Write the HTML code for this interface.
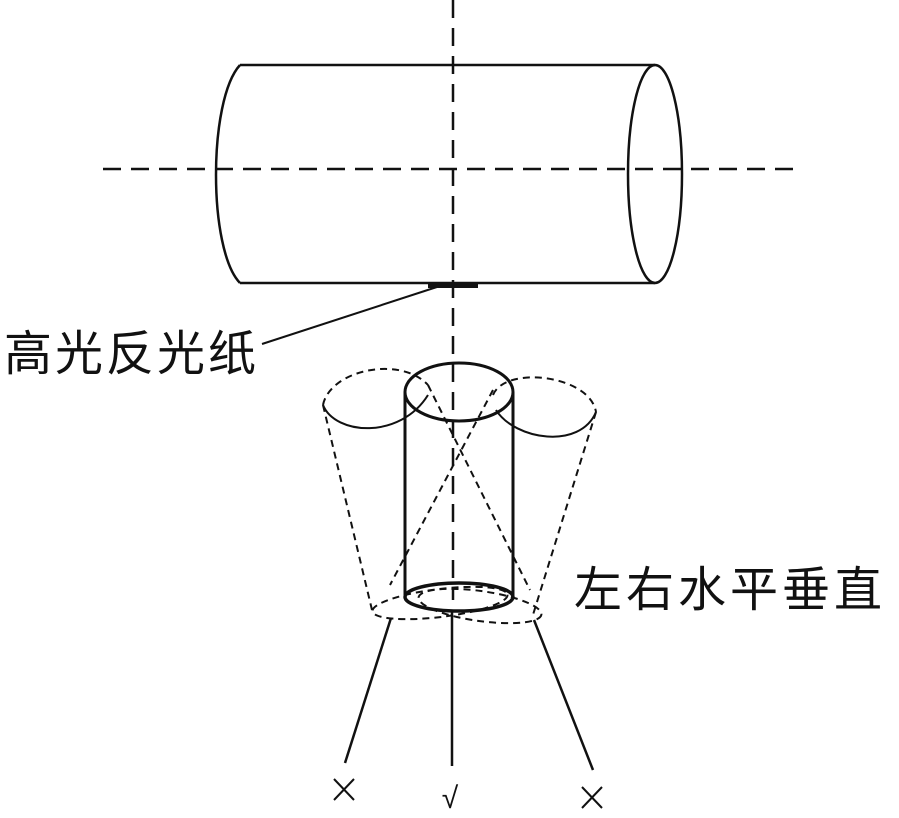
<!DOCTYPE html>
<html><head><meta charset="utf-8"><style>
html,body{margin:0;padding:0;background:#fff;}
svg{display:block}
</style></head><body>
<svg width="899" height="818" viewBox="0 0 899 818" xmlns="http://www.w3.org/2000/svg">
<g fill="none" stroke="#111" stroke-width="2.5">
<line x1="103" y1="169" x2="800" y2="169" stroke-dasharray="18,10"/>
<line x1="453" y1="0" x2="453" y2="600" stroke-dasharray="18,10"/>
<line x1="240" y1="65" x2="655" y2="65"/>
<line x1="240" y1="283" x2="655" y2="283"/>
<path d="M240,65 C208,100 208,250 240,283"/>
<ellipse cx="655" cy="174" rx="27" ry="109"/>
<ellipse cx="459" cy="392" rx="54" ry="29" stroke-width="3"/>
<line x1="405" y1="392" x2="405" y2="597" stroke-width="3"/>
<line x1="513" y1="392" x2="513" y2="597" stroke-width="3"/>
<ellipse cx="459" cy="597" rx="54" ry="14" stroke-width="3.5"/>
<g stroke-dasharray="7,5" stroke-width="2">
<path d="M323,405 C330,370 400,355 428,385"/>
<path d="M493,395 C505,365 590,375 596,412"/>
<line x1="323" y1="405" x2="372" y2="610"/>
<line x1="428" y1="385" x2="530" y2="590"/>
<line x1="596" y1="412" x2="532" y2="618"/>
<line x1="493" y1="390" x2="390" y2="585"/>
<ellipse cx="440" cy="603" rx="68" ry="14" transform="rotate(-7 440 603)"/>
<ellipse cx="480" cy="606" rx="62" ry="15" transform="rotate(8 480 606)"/>
</g>
<path d="M323,405 C335,435 400,440 428,395" stroke-width="2"/>
<path d="M496,410 C515,440 580,450 596,412" stroke-width="2"/>
<line x1="391" y1="618" x2="345" y2="763"/>
<line x1="452" y1="612" x2="452" y2="766"/>
<line x1="534" y1="620" x2="593" y2="770"/>
<line x1="262" y1="344" x2="440" y2="286" stroke-width="2"/>
<!-- marks -->
<g stroke-width="2">
<line x1="334" y1="779" x2="354" y2="800"/><line x1="354" y1="779" x2="334" y2="800"/>
<line x1="582" y1="787" x2="602" y2="808"/><line x1="602" y1="787" x2="582" y2="808"/>
</g>
</g>
<rect x="428" y="283" width="50" height="5" fill="#111"/>
<g font-family="'Liberation Sans','Noto Sans CJK SC',sans-serif" fill="#111">
<text x="4" y="370" font-size="48" letter-spacing="3">高光反光纸</text>
<text x="574" y="606" font-size="48" letter-spacing="4">左右水平垂直</text>
<text x="450" y="808" font-size="30" text-anchor="middle">√</text>
</g>
</svg>
</body></html>
